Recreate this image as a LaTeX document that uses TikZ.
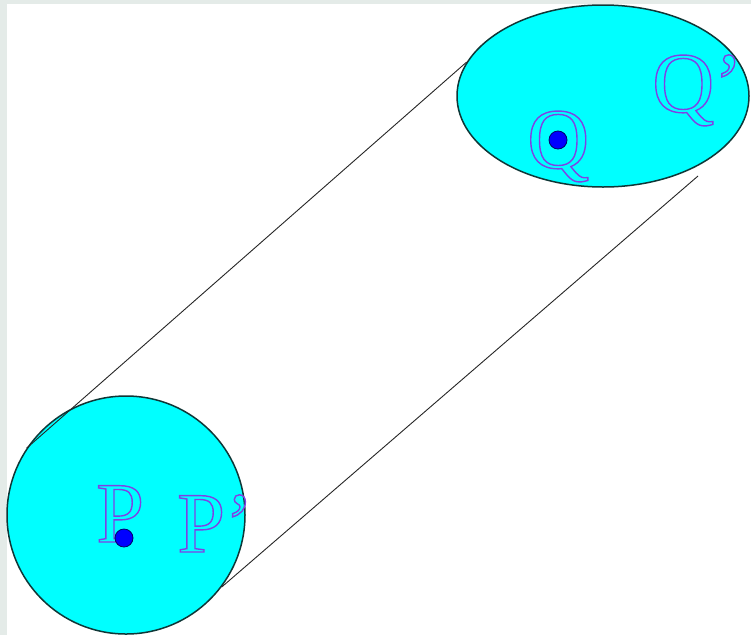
\documentclass[tikz,border=0pt]{standalone}
\usepackage{fontspec}
\usetikzlibrary{shapes.geometric}
\newfontfamily\labelfont[Ligatures=TeX]{Liberation Serif}
\definecolor{frame}{RGB}{228,235,232}
\definecolor{rim}{RGB}{15,55,55}
\definecolor{aqua}{RGB}{0,255,255}
\tikzset{
  disc/.style={draw=rim, line width=1.5pt, fill=aqua, inner sep=0pt},
  spot/.style={circle, draw=black!60!blue, fill=blue, line width=0.8pt, minimum size=18pt, inner sep=0pt},
  hollow/.style={font=\labelfont\fontsize{86}{86}\selectfont, inner sep=0pt, anchor=base west},
  edge/.style={line width=0.9pt, black!85},
}
% outlined glyphs: stroke only, violet
\newcommand{\outl}[1]{\special{pdf:literal direct 1 Tr 1.4 w 0.5 0.25 0.9 RG}#1\special{pdf:literal direct 0 Tr}}

\begin{document}
\begin{tikzpicture}[x=1pt, y=-1pt]
  \fill[frame] (0,0) rectangle (751,635);
  \fill[white] (7,4) rectangle (751,635);
  \useasboundingbox (0,0) rectangle (751,635);
  % the two sections
  \node[disc, circle, minimum size=238pt] (base) at (126,515) {};
  \node[disc, ellipse, minimum width=292pt, minimum height=182pt] (top) at (603,96) {};
  \coordinate (rimend) at (698,176);
  \draw[edge] (base.146.7) -- (top.166);
  \draw[edge] (base.-37) -- (rimend);
  % labels
  \node[hollow] (p) at (96,542) {\outl{P}};
  \node[hollow] (pp) at (177,552) {\outl{P’}};
  \node[hollow] (q) at (527,168) {\outl{Q}};
  \node[hollow] (qq) at (652,112) {\outl{Q’}};
  \node[spot] (pdot) at (124,538) {};
  \node[spot] (qdot) at (558,140) {};
\end{tikzpicture}
\end{document}
